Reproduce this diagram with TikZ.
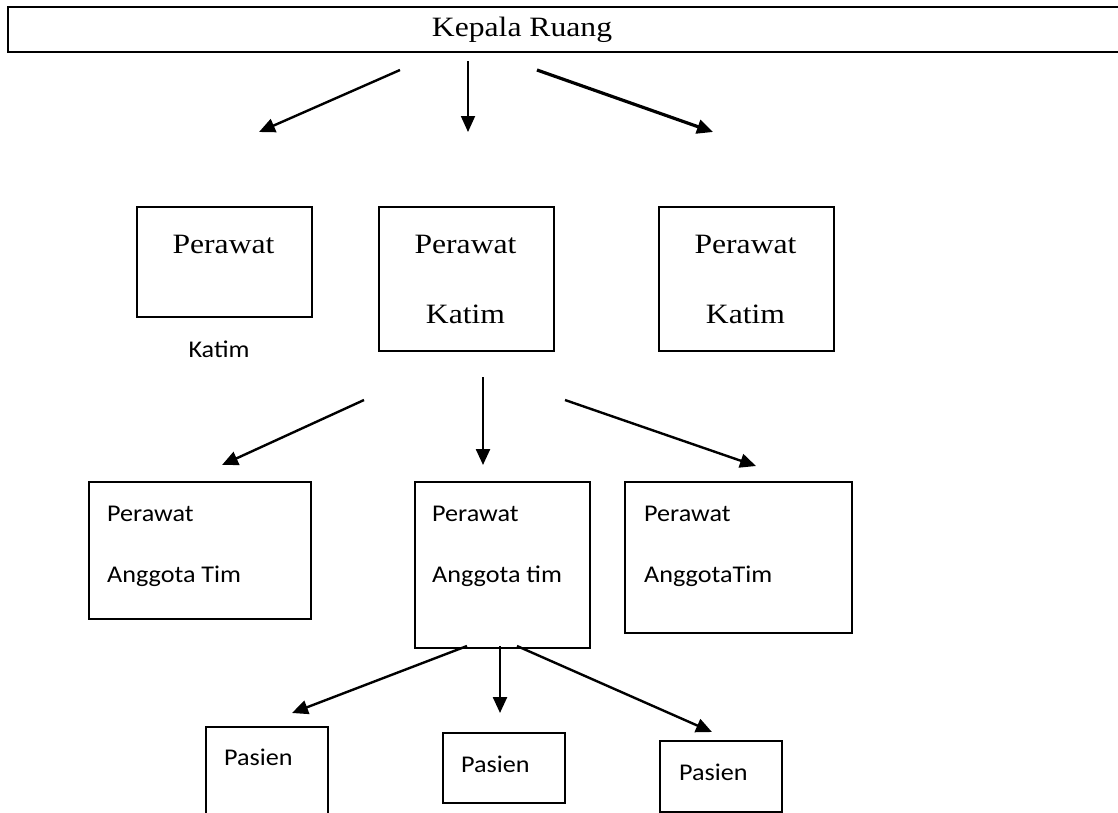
\documentclass[tikz,border=0pt]{standalone}
\usepackage{fontspec}
\usepackage{graphicx}
\setmainfont{Liberation Serif}
\newfontfamily\calib{Carlito}
\usetikzlibrary{arrows.meta}
\newcommand\sxs[1]{\scalebox{1.13}[1]{#1}}
\newcommand\sxc[1]{\scalebox{1.09}[1]{#1}}
\tikzset{
  box/.style={draw, line width=1.6pt, inner sep=0pt, anchor=north west},
  serif/.style={font=\fontsize{28}{30}\selectfont, inner sep=0pt, anchor=base},
  sansw/.style={font=\calib\fontsize{24}{26}\selectfont, inner sep=0pt, anchor=base west},
  sansc/.style={font=\calib\fontsize{24}{26}\selectfont, inner sep=0pt, anchor=base},
  arr/.style={line width=2.4pt, -{Triangle[length=16pt,width=14pt]}},
}
\begin{document}
\begin{tikzpicture}[x=1pt,y=-1pt]
\useasboundingbox (0,0) rectangle (1118,812);
\clip (0,0) rectangle (1118,812);
% top box
\node[box, line width=1.8pt, minimum width=1130pt, minimum height=45pt] (top) at (7,6) {};
\node[serif] (topt) at (522,36) {\sxs{Kepala Ruang}};
% row 2
\node[box, minimum width=175pt, minimum height=110pt] (A) at (136,206) {};
\node[box, minimum width=175pt, minimum height=144pt] (B) at (378,206) {};
\node[box, minimum width=175pt, minimum height=144pt] (C) at (658,206) {};
\node[serif] (At) at (223.5,253) {\sxs{Perawat}};
\node[sansc] (Al) at (219,357) {\sxc{Katim}};
\node[serif] (Bt1) at (465.5,253) {\sxs{Perawat}};
\node[serif] (Bt2) at (465.5,323) {\sxs{Katim}};
\node[serif] (Ct1) at (745.5,253) {\sxs{Perawat}};
\node[serif] (Ct2) at (745.5,323) {\sxs{Katim}};
% row 3
\node[box, minimum width=222pt, minimum height=137pt] (D) at (88,481) {};
\node[box, minimum width=175pt, minimum height=166pt] (E) at (414,481) {};
\node[box, minimum width=227pt, minimum height=151pt] (F) at (624,481) {};
\node[sansw] (Dt1) at (107,521) {\sxc{Perawat}};
\node[sansw] (Dt2) at (107,582) {\sxc{Anggota Tim}};
\node[sansw] (Et1) at (432,521) {\sxc{Perawat}};
\node[sansw] (Et2) at (432,582) {\sxc{Anggota tim}};
\node[sansw] (Ft1) at (644,521) {\sxc{Perawat}};
\node[sansw] (Ft2) at (644,582) {\sxc{AnggotaTim}};
% row 4
\node[box, minimum width=122pt, minimum height=100pt] (G) at (205,726) {};
\node[box, minimum width=122pt, minimum height=70pt] (H) at (442,732) {};
\node[box, minimum width=122pt, minimum height=71pt] (I) at (659,740) {};
\node[sansw] (Gt) at (224,765) {\sxc{Pasien}};
\node[sansw] (Ht) at (461,772) {\sxc{Pasien}};
\node[sansw] (It) at (679,780) {\sxc{Pasien}};
% arrow end points
\coordinate (a1s) at (400,70);  \coordinate (a1e) at (259,132);
\coordinate (a2s) at (468,61);  \coordinate (a2e) at (468,132);
\coordinate (a3s) at (537,70);  \coordinate (a3e) at (713,132);
\coordinate (b1s) at (364,400); \coordinate (b1e) at (222,465);
\coordinate (b2s) at (483,377); \coordinate (b2e) at (483,465);
\coordinate (b3s) at (565,400); \coordinate (b3e) at (756,466);
\coordinate (c1s) at (467,646); \coordinate (c1e) at (292,713);
\coordinate (c2s) at (500,646); \coordinate (c2e) at (500,713);
\coordinate (c3s) at (517,646); \coordinate (c3e) at (712,732);
\draw[arr] (a1s) -- (a1e);
\draw[arr, line width=1.8pt] (a2s) -- (a2e);
\draw[arr, line width=3.2pt] (a3s) -- (a3e);
\draw[arr] (b1s) -- (b1e);
\draw[arr] (b2s) -- (b2e);
\draw[arr] (b3s) -- (b3e);
\draw[arr] (c1s) -- (c1e);
\draw[arr] (c2s) -- (c2e);
\draw[arr] (c3s) -- (c3e);
\end{tikzpicture}
\end{document}
